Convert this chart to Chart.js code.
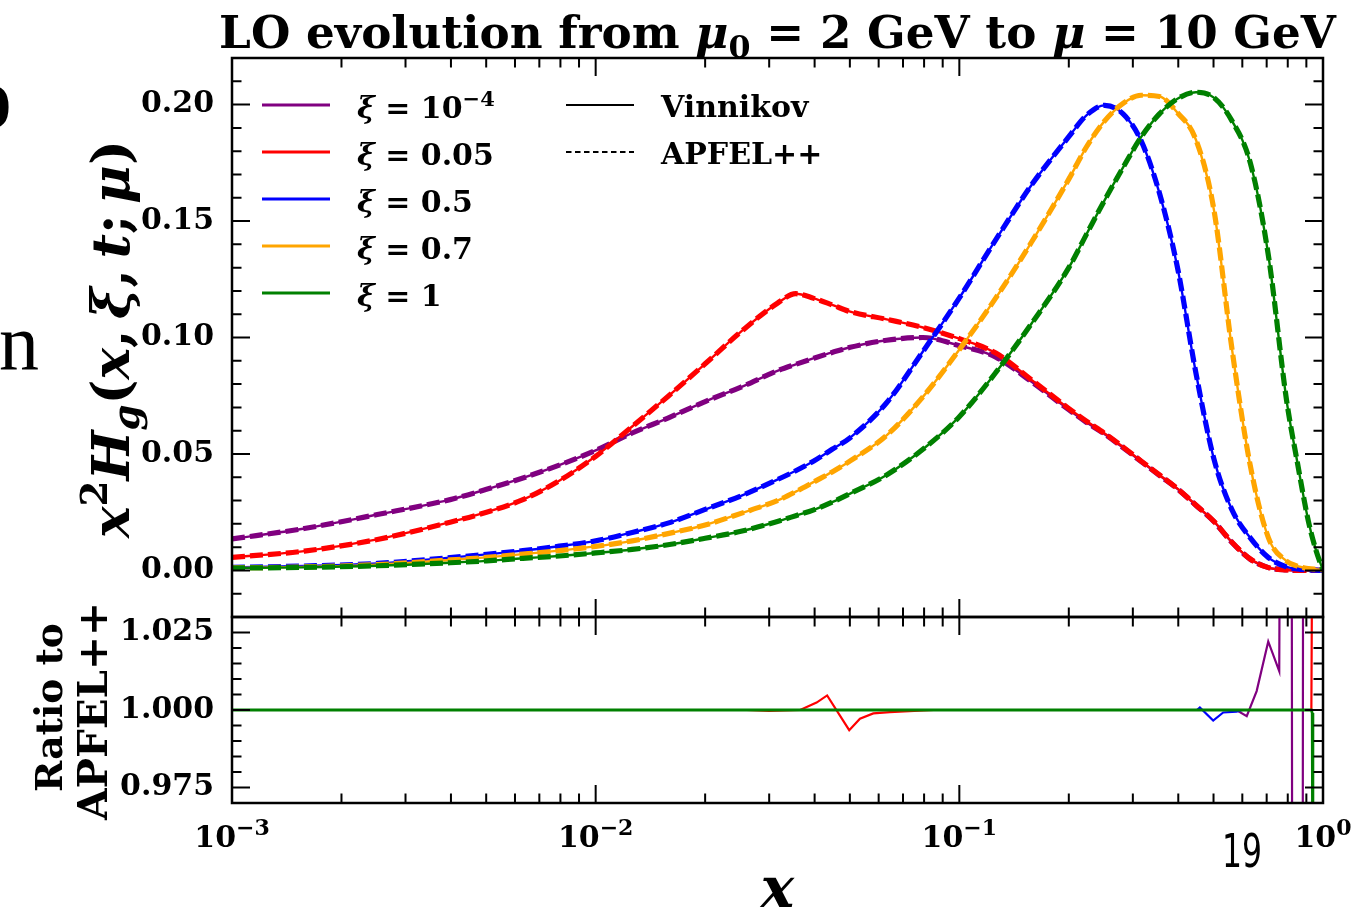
<!DOCTYPE html>
<html>
<head>
<meta charset="utf-8">
<title>LO evolution from mu0 = 2 GeV to mu = 10 GeV</title>
<script src="https://cdn.jsdelivr.net/npm/chart.js@4.4.1/dist/chart.umd.min.js"></script>
<style>
html, body { margin:0; padding:0; background:#ffffff; overflow:hidden; }
#wrap { position:relative; width:1358px; height:911px; background:#ffffff; }
#wrap canvas { position:absolute; left:0; top:0; }
</style>
</head>
<body>
<div id="wrap">
  <canvas id="mainCanvas" width="1358" height="911"></canvas>
  <canvas id="ratioCanvas" width="1358" height="911"></canvas>
</div>
<script>
// ---------------- data ----------------
const xGrid = [0.001, 0.00158, 0.00251, 0.00398, 0.00501, 0.00631, 0.00794, 0.01, 0.0126, 0.0158,
  0.02, 0.0251, 0.0316, 0.0355, 0.0398, 0.0447, 0.0501, 0.0631, 0.0794, 0.1,
  0.126, 0.158, 0.2, 0.224, 0.251, 0.282, 0.316, 0.355, 0.398, 0.447,
  0.501, 0.562, 0.631, 0.708, 0.794, 0.851, 0.912, 0.955, 1.0];

const h_xi1em4 = [0.0135, 0.018, 0.024, 0.0304, 0.0348, 0.0397, 0.0452, 0.0515, 0.059, 0.0654,
  0.0725, 0.0787, 0.0857, 0.0885, 0.0911, 0.0936, 0.0958, 0.0988, 0.1000, 0.0965,
  0.0916, 0.0810, 0.0690, 0.0635, 0.0585, 0.0527, 0.0468, 0.0408, 0.0350, 0.0280,
  0.0210, 0.0120, 0.0048, 0.0012, 0.0002, 0.0, 0.0, 0.0, 0.0];

const h_xi005 = [0.0056, 0.0083, 0.0133, 0.0207, 0.0250, 0.0304, 0.0385, 0.049, 0.0618, 0.0747,
  0.0887, 0.1025, 0.1147, 0.1188, 0.1168, 0.1140, 0.1111, 0.1078, 0.1043, 0.0995,
  0.0933, 0.0818, 0.0695, 0.0640, 0.0588, 0.0530, 0.0470, 0.0410, 0.0351, 0.0281,
  0.0211, 0.0121, 0.0049, 0.0012, 0.0002, 0.0, 0.0, 0.0, 0.0];

const h_xi05 = [0.0013, 0.0019, 0.003, 0.0055, 0.0069, 0.0085, 0.0104, 0.0127, 0.0163, 0.0203,
  0.0262, 0.032, 0.039, 0.0428, 0.047, 0.052, 0.057, 0.072, 0.094, 0.117,
  0.142, 0.1655, 0.1862, 0.1955, 0.1997, 0.196, 0.1845, 0.162, 0.130, 0.085,
  0.048, 0.026, 0.014, 0.0055, 0.0015, 0.0006, 0.0002, 0.0001, 0.0];

const h_xi07 = [0.0011, 0.0015, 0.0025, 0.0045, 0.0056, 0.007, 0.0085, 0.0103, 0.0127, 0.0158,
  0.0195, 0.0245, 0.030, 0.0338, 0.038, 0.0423, 0.047, 0.058, 0.0745, 0.0948,
  0.117, 0.141, 0.168, 0.182, 0.193, 0.2005, 0.204, 0.2035, 0.1965, 0.185,
  0.155, 0.095, 0.045, 0.014, 0.004, 0.0018, 0.0008, 0.0005, 0.0003];

const h_xi1 = [0.001, 0.0013, 0.002, 0.0033, 0.0041, 0.0052, 0.0062, 0.0075, 0.009, 0.011,
  0.0138, 0.0168, 0.021, 0.0235, 0.026, 0.0293, 0.033, 0.041, 0.052, 0.066,
  0.085, 0.106, 0.130, 0.1445, 0.159, 0.173, 0.186, 0.196, 0.2025, 0.2053,
  0.203, 0.193, 0.175, 0.135, 0.073, 0.046, 0.021, 0.009, 0.0];

// ratio Vinnikov / APFEL++
const ratioX_xi1em4 = [0.001, 0.03, 0.578, 0.617, 0.657, 0.707, 0.758, 0.762, 0.820, 0.823, 0.879, 0.882, 1.0];
const ratio_xi1em4  = [1.0, 1.0, 1.0, 0.998, 1.0061, 1.0221, 1.0125, 1.08, 1.08, 0.92, 0.92, 1.08, 1.08];

const ratioX_xi005 = [0.001, 0.026, 0.03, 0.0365, 0.0405, 0.0433, 0.0498, 0.0533, 0.058, 0.0644, 0.085, 0.929, 0.936, 1.0];
const ratio_xi005  = [1.0, 1.0, 0.9997, 1.0, 1.0024, 1.0047, 0.9935, 0.9972, 0.9989, 0.9993, 1.0, 1.0, 1.08, 1.08];

const ratioX_xi05 = [0.001, 0.45, 0.4586, 0.4989, 0.5317, 0.5785, 0.6, 0.955];
const ratio_xi05  = [1.0, 1.0, 1.0008, 0.9966, 0.9992, 0.9995, 1.0, 1.0];

const ratioX_xi07 = [0.001, 0.955];
const ratio_xi07  = [1.0, 1.0];

const ratioX_xi1 = [0.001, 0.929, 0.934, 0.938, 1.0];
const ratio_xi1  = [1.0, 1.0, 0.999, 0.92, 0.92];

// ticks and labels
const xMajorTicks = [0.001, 0.01, 0.1, 1];
const xTickExponents = ['\u22123', '\u22122', '\u22121', '0'];
const xMinorTicks = [0.002, 0.003, 0.004, 0.005, 0.006, 0.007, 0.008, 0.009,
  0.02, 0.03, 0.04, 0.05, 0.06, 0.07, 0.08, 0.09,
  0.2, 0.3, 0.4, 0.5, 0.6, 0.7, 0.8, 0.9];
const yMainTicks = [0, 0.05, 0.10, 0.15, 0.20];
const yMainMinor = [-0.01, 0.01, 0.02, 0.03, 0.04, 0.06, 0.07, 0.08, 0.09, 0.11, 0.12, 0.13, 0.14, 0.16, 0.17, 0.18, 0.19, 0.21];
const yRatioTicks = [0.975, 1.0, 1.025];
const yRatioMinor = [0.98, 0.985, 0.99, 0.995, 1.005, 1.01, 1.015, 1.02];
const xiLabels = ['10^-4', '0.05', '0.5', '0.7', '1'];
const codeLabels = ['Vinnikov', 'APFEL++'];

// styles
const seriesColors = ['#800080', '#ff0000', '#0000ff', '#ffa500', '#008000'];
const SERIF = '"DejaVu Serif", serif';
const rm = s => `bold ${s}px ${SERIF}`;
const it = s => `italic bold ${s}px ${SERIF}`;

// ---------------- helpers ----------------
function partsWidth(ctx, parts) {
  let w = 0;
  for (const p of parts) { ctx.font = p.f; w += ctx.measureText(p.t).width; }
  return w;
}
function drawParts(ctx, parts, x, y, align) {
  const w = partsWidth(ctx, parts);
  let cx = align === 'center' ? x - w / 2 : (align === 'right' ? x - w : x);
  ctx.textAlign = 'left';
  ctx.textBaseline = 'alphabetic';
  for (const p of parts) {
    ctx.font = p.f;
    ctx.fillText(p.t, cx, y + (p.dy || 0));
    cx += ctx.measureText(p.t).width;
  }
}
function fitParts(ctx, make, base, target) {
  const w = partsWidth(ctx, make(base));
  return make(base * target / w);
}
function drawTicksAndFrame(chart, yMajor, yMinor) {
  const ctx = chart.ctx, a = chart.chartArea;
  const xs = chart.scales.x, ys = chart.scales.y;
  ctx.save();
  ctx.strokeStyle = '#000';
  ctx.lineWidth = 2;
  ctx.beginPath();
  const vt = (v, len) => {
    const p = xs.getPixelForValue(v);
    ctx.moveTo(p, a.bottom); ctx.lineTo(p, a.bottom - len);
    ctx.moveTo(p, a.top); ctx.lineTo(p, a.top + len);
  };
  xMajorTicks.forEach(v => vt(v, 18));
  xMinorTicks.forEach(v => vt(v, 9.5));
  const ht = (v, len) => {
    const p = ys.getPixelForValue(v);
    ctx.moveTo(a.left, p); ctx.lineTo(a.left + len, p);
    ctx.moveTo(a.right, p); ctx.lineTo(a.right - len, p);
  };
  yMajor.forEach(v => ht(v, 18));
  yMinor.forEach(v => ht(v, 9.5));
  ctx.stroke();
  ctx.lineWidth = 2.5;
  ctx.strokeRect(a.left, a.top, a.right - a.left, a.bottom - a.top);
  ctx.restore();
}

// ---------------- main panel ----------------
const seriesValues = [h_xi1em4, h_xi005, h_xi05, h_xi07, h_xi1];
const mainDatasets = [];
seriesValues.forEach((vals, k) => {
  const pts = xGrid.map((x, i) => ({ x: x, y: vals[i] }));
  mainDatasets.push({
    label: codeLabels[0] + ' ' + xiLabels[k], data: pts,
    borderColor: seriesColors[k], borderWidth: 2.4, pointRadius: 0,
    cubicInterpolationMode: 'monotone', fill: false, order: 100 - 2 * k
  });
  mainDatasets.push({
    label: codeLabels[1] + ' ' + xiLabels[k], data: pts,
    borderColor: seriesColors[k], borderWidth: 5.2, borderDash: [13, 5], pointRadius: 0,
    cubicInterpolationMode: 'monotone', fill: false, order: 99 - 2 * k
  });
});

const mainDecor = {
  id: 'mainDecor',
  afterDraw(chart) {
    drawTicksAndFrame(chart, yMainTicks, yMainMinor);
    const ctx = chart.ctx;
    ctx.save();
    ctx.fillStyle = '#000';

    // title
    const title = fitParts(ctx, F => [
      { t: 'LO evolution from ', f: rm(F) },
      { t: '\u03bc', f: it(F) },
      { t: '0', f: rm(F * 0.7), dy: F * 0.22 },
      { t: ' = 2 GeV to ', f: rm(F) },
      { t: '\u03bc', f: it(F) },
      { t: ' = 10 GeV', f: rm(F) }
    ], 45, 1117);
    drawParts(ctx, title, 777.5, 48, 'center');

    // y axis label
    ctx.save();
    ctx.translate(129, 339);
    ctx.rotate(-Math.PI / 2);
    const ylab = fitParts(ctx, F => [
      { t: 'x', f: it(F) },
      { t: '2', f: rm(F * 0.7), dy: -F * 0.42 },
      { t: 'H', f: it(F) },
      { t: 'g', f: it(F * 0.7), dy: F * 0.18 },
      { t: '(', f: rm(F) },
      { t: 'x', f: it(F) },
      { t: ',\u2009', f: rm(F) },
      { t: '\u03be', f: it(F) },
      { t: ',\u2009', f: rm(F) },
      { t: 't', f: it(F) },
      { t: ';\u2009', f: rm(F) },
      { t: '\u03bc', f: it(F) },
      { t: ')', f: rm(F) }
    ], 56, 398);
    drawParts(ctx, ylab, 0, 0, 'center');
    ctx.restore();

    // legend, column 1 (xi values)
    const rowsY = [105, 152, 199, 246, 293];
    rowsY.forEach((ry, k) => {
      ctx.strokeStyle = seriesColors[k];
      ctx.lineWidth = 3;
      ctx.setLineDash([]);
      ctx.beginPath(); ctx.moveTo(262, ry); ctx.lineTo(330, ry); ctx.stroke();
      let parts;
      if (xiLabels[k] === '10^-4') {
        parts = [{ t: '\u03be', f: it(30) }, { t: ' = 10', f: rm(30) }, { t: '\u22124', f: rm(21), dy: -12 }];
      } else {
        parts = [{ t: '\u03be', f: it(30) }, { t: ' = ' + xiLabels[k], f: rm(30) }];
      }
      drawParts(ctx, parts, 357, ry + 13, 'left');
    });
    // legend, column 2 (codes)
    ctx.strokeStyle = '#000';
    ctx.lineWidth = 2;
    ctx.setLineDash([]);
    ctx.beginPath(); ctx.moveTo(566, 105); ctx.lineTo(634, 105); ctx.stroke();
    ctx.setLineDash([5.5, 3.5]);
    ctx.beginPath(); ctx.moveTo(566, 152); ctx.lineTo(634, 152); ctx.stroke();
    ctx.setLineDash([]);
    drawParts(ctx, [{ t: codeLabels[0], f: rm(30) }], 661, 117, 'left');
    drawParts(ctx, [{ t: codeLabels[1], f: rm(30) }], 661, 164, 'left');

    // fragments of the page behind the figure
    ctx.font = 'bold 90px "Liberation Serif", serif';
    const mo = ctx.measureText('o');
    ctx.textAlign = 'left';
    ctx.fillText('o', 9 - mo.actualBoundingBoxRight, 128);
    ctx.font = '80px "Liberation Serif", serif';
    ctx.fillText('n', -1, 369);
    ctx.restore();
  }
};

new Chart(document.getElementById('mainCanvas'), {
  type: 'line',
  data: { datasets: mainDatasets },
  options: {
    responsive: false, animation: false, devicePixelRatio: 1, events: [],
    layout: { padding: { left: 0, right: 35, top: 58, bottom: 294 } },
    plugins: { legend: { display: false }, tooltip: { enabled: false }, title: { display: false } },
    scales: {
      x: {
        type: 'logarithmic', min: 0.001, max: 1,
        grid: { display: false, drawTicks: false }, border: { display: false },
        ticks: { display: false },
        afterBuildTicks: s => { s.ticks = xMajorTicks.map(v => ({ value: v })); },
        afterFit: s => { s.height = 0; }
      },
      y: {
        type: 'linear', min: -0.02, max: 0.22,
        grid: { display: false, drawTicks: false }, border: { display: false },
        ticks: { color: '#000', font: { family: SERIF, size: 30, weight: 'bold' }, padding: 18,
                 callback: v => Number(v).toFixed(2) },
        afterBuildTicks: s => { s.ticks = yMainTicks.map(v => ({ value: v })); },
        afterFit: s => { s.width = 232; }
      }
    }
  },
  plugins: [mainDecor]
});

// ---------------- ratio panel ----------------
const ratioSets = [[ratioX_xi1em4, ratio_xi1em4], [ratioX_xi005, ratio_xi005], [ratioX_xi05, ratio_xi05],
                   [ratioX_xi07, ratio_xi07], [ratioX_xi1, ratio_xi1]];
const ratioDatasets = ratioSets.map((pair, k) => ({
  label: 'ratio ' + xiLabels[k],
  data: pair[0].map((x, i) => ({ x: x, y: pair[1][i] })),
  borderColor: seriesColors[k], borderWidth: k === 4 ? 2.8 : 2.2, pointRadius: 0,
  tension: 0, fill: false, clip: 0, order: 10 - k
}));

const ratioDecor = {
  id: 'ratioDecor',
  afterDraw(chart) {
    drawTicksAndFrame(chart, yRatioTicks, yRatioMinor);
    const ctx = chart.ctx;
    const xs = chart.scales.x;
    ctx.save();
    ctx.fillStyle = '#000';
    // x tick labels 10^n
    xMajorTicks.forEach((v, i) => {
      const p = xs.getPixelForValue(v);
      drawParts(ctx, [{ t: '10', f: rm(30) }, { t: xTickExponents[i], f: rm(22), dy: -12 }], p, 847, 'center');
    });
    // x axis title
    drawParts(ctx, [{ t: 'x', f: it(56) }], 777.5, 907, 'center');
    // ratio y label (two lines)
    ctx.save();
    ctx.translate(62, 707.5);
    ctx.rotate(-Math.PI / 2);
    drawParts(ctx, fitParts(ctx, F => [{ t: 'Ratio to', f: rm(F) }], 40, 169), 0, 0, 'center');
    ctx.restore();
    ctx.save();
    ctx.translate(107, 711);
    ctx.rotate(-Math.PI / 2);
    drawParts(ctx, fitParts(ctx, F => [{ t: 'APFEL++', f: rm(F) }], 42, 218), 0, 0, 'center');
    ctx.restore();
    // page number of the slide
    ctx.save();
    ctx.font = '47px "DejaVu Sans", sans-serif';
    const w19 = ctx.measureText('19').width;
    ctx.translate(1222, 867);
    ctx.scale(40 / w19, 1);
    ctx.textAlign = 'left';
    ctx.fillText('19', 0, 0);
    ctx.restore();
    ctx.restore();
  }
};

new Chart(document.getElementById('ratioCanvas'), {
  type: 'line',
  data: { datasets: ratioDatasets },
  options: {
    responsive: false, animation: false, devicePixelRatio: 1, events: [],
    layout: { padding: { left: 0, right: 35, top: 617, bottom: 108 } },
    plugins: { legend: { display: false }, tooltip: { enabled: false }, title: { display: false } },
    scales: {
      x: {
        type: 'logarithmic', min: 0.001, max: 1,
        grid: { display: false, drawTicks: false }, border: { display: false },
        ticks: { display: false },
        afterBuildTicks: s => { s.ticks = xMajorTicks.map(v => ({ value: v })); },
        afterFit: s => { s.height = 0; }
      },
      y: {
        type: 'linear', min: 0.97, max: 1.03,
        grid: { display: false, drawTicks: false }, border: { display: false },
        ticks: { color: '#000', font: { family: SERIF, size: 30, weight: 'bold' }, padding: 18,
                 callback: v => Number(v).toFixed(3) },
        afterBuildTicks: s => { s.ticks = yRatioTicks.map(v => ({ value: v })); },
        afterFit: s => { s.width = 232; }
      }
    }
  },
  plugins: [ratioDecor]
});
</script>
</body>
</html>
